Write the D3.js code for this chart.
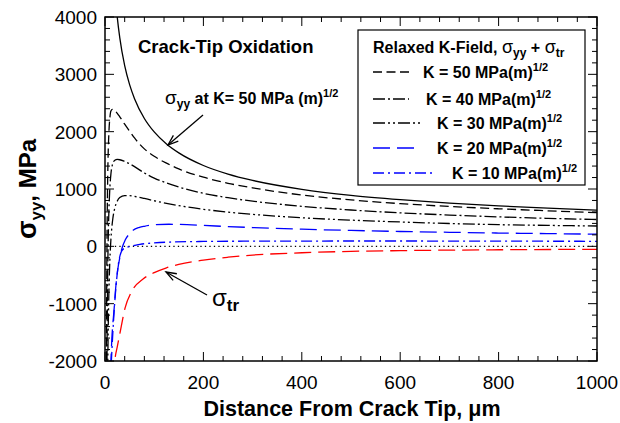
<!DOCTYPE html>
<html><head><meta charset="utf-8">
<script src="https://cdn.jsdelivr.net/npm/d3@7"></script>
<style>body{margin:0;background:#fff}svg{display:block}text{font-family:"Liberation Sans",Arial,sans-serif}</style>
</head><body><svg id="c" width="620" height="423"></svg>
<script>
// ---- data ----
const xTicks = [0,200,400,600,800,1000];
const yTicks = [-2000,-1000,0,1000,2000,3000,4000];

const rSolid = [20,25,30,40,50,60,80,100,125,150,200,250,300,400,500,600,700,800,900,1000];
const sigmaYY50 = [4460,3990,3640,3150,2820,2575,2230,1995,1785,1630,1410,1260,1150,995,890,815,755,705,665,630];

const rK50 = [2.5,3,4,5,6,8,10,12,15,18,20,25,30,40,50,60,80,100,125,150,200,250,300,400,500,600,700,800,900,1000];
const relaxK50 = [-3400,-1800,0,900,1450,2000,2250,2360,2390,2385,2370,2320,2260,2130,2010,1890,1700,1570,1450,1350,1205,1100,1020,895,810,745,695,655,620,588];

const rK40 = [3,4,5,6,7,8,10,12,15,20,25,30,40,50,60,80,100,125,150,200,250,300,400,500,600,700,800,900,1000];
const relaxK40 = [-4100,-2000,-850,-150,320,640,1040,1260,1420,1500,1515,1510,1480,1440,1390,1280,1190,1105,1035,925,848,788,698,634,584,546,514,488,468];

const rK30 = [4,5,6,7,8,10,12,14,16,20,25,30,40,50,60,70,80,100,125,150,200,250,300,400,500,600,700,800,900,1000];
const relaxK30 = [-4000,-2650,-1780,-1190,-770,-215,120,340,490,670,790,850,885,885,870,855,835,795,750,710,646,597,558,498,457,425,398,378,365,355];

const rK20 = [8,10,12,14,16,18,22,26,30,35,41,50,57,70,80,100,130,150,200,250,300,400,500,600,700,800,900,1000];
const relaxK20 = [-3000,-2400,-2000,-1600,-1350,-1150,-700,-400,-200,-20,110,220,280,330,350,375,385,382,365,345,328,299,277,259,245,232,222,212];

const rK10 = [8,10,13,16,20,24,27,30,34,40,47,60,71,98,132,200,300,400,500,600,700,800,900,1000];
const relaxK10 = [-3500,-2600,-2000,-1500,-950,-550,-320,-180,-80,-30,-10,15,35,58,75,85,90,92,93,93,92,91,89,88];

const rTr = [17,20,25,30,41,54,78,100,125,150,200,250,300,400,500,600,800,1000];
const sigmaTr = [-2350,-2000,-1750,-1530,-1070,-790,-565,-460,-375,-315,-240,-190,-152,-112,-88,-75,-60,-52];

const legendLabels = ["50","40","30","20","10"];

// ---- layout ----
const svg = d3.select("#c");
const L=105, R=597, T=17, B=361;
const x = d3.scaleLinear().domain([0,1000]).range([L,R]);
const y = d3.scaleLinear().domain([-2000,4000]).range([B,T]);

svg.append("defs").append("clipPath").attr("id","clip")
  .append("rect").attr("x",L).attr("y",T).attr("width",R-L).attr("height",B-T);

const series = [
  {r:rK50, v:relaxK50, color:"#000", dash:"9,4.5"},
  {r:rK40, v:relaxK40, color:"#000", dash:"12,3,2,3"},
  {r:rK30, v:relaxK30, color:"#000", dash:"12,3,2,3,2,3"},
  {r:rK20, v:relaxK20, color:"#0000ff", dash:"17,7"},
  {r:rK10, v:relaxK10, color:"#0000ff", dash:"11,4,2,4"},
  {r:rTr,  v:sigmaTr,  color:"#ff0000", dash:"17,7"},
  {r:rSolid, v:sigmaYY50, color:"#000", dash:null}
];

const line = d3.line().x(d=>x(d[0])).y(d=>y(d[1])).curve(d3.curveMonotoneX);
const g = svg.append("g").attr("clip-path","url(#clip)");

// zero dotted line
g.append("path").attr("d", line([[20,0],[1000,0]])).attr("fill","none")
  .attr("stroke","#000").attr("stroke-width",1.3).attr("stroke-dasharray","1.3,3.2");

series.forEach(s=>{
  g.append("path").attr("d", line(s.r.map((r,i)=>[r,s.v[i]])))
    .attr("fill","none").attr("stroke",s.color).attr("stroke-width",1.3)
    .attr("stroke-dasharray", s.dash);
});

// ---- axes ----
const xMinor = d3.range(0,1001,40);
const yMinor = d3.range(-2000,4001,200);
const ax = svg.append("g").attr("stroke","#000").attr("stroke-width",1);
xMinor.forEach(v=>{
  const len = xTicks.includes(v)?9:5;
  ax.append("line").attr("x1",x(v)).attr("x2",x(v)).attr("y1",B).attr("y2",B-len);
  ax.append("line").attr("x1",x(v)).attr("x2",x(v)).attr("y1",T).attr("y2",T+len);
});
yMinor.forEach(v=>{
  const len = yTicks.includes(v)?9:5;
  ax.append("line").attr("x1",L).attr("x2",L+len).attr("y1",y(v)).attr("y2",y(v));
  ax.append("line").attr("x1",R).attr("x2",R-len).attr("y1",y(v)).attr("y2",y(v));
});
svg.append("rect").attr("x",L).attr("y",T).attr("width",R-L).attr("height",B-T)
  .attr("fill","none").attr("stroke","#000").attr("stroke-width",1.5);

xTicks.forEach(v=>{
  svg.append("text").attr("x",x(v)).attr("y",389).attr("text-anchor","middle")
    .attr("font-size",19).text(v);
});
yTicks.forEach(v=>{
  svg.append("text").attr("x",97).attr("y",y(v)+7).attr("text-anchor","end")
    .attr("font-size",19).text(v);
});

// axis titles
svg.append("text").attr("x",352).attr("y",416).attr("text-anchor","middle")
  .attr("font-size",21.5).attr("font-weight","bold").text("Distance From Crack Tip, μm");
const yt = svg.append("text").attr("transform","translate(36,189) rotate(-90)")
  .attr("text-anchor","middle").attr("font-size",24).attr("font-weight","bold");
yt.append("tspan").attr("font-size",27).text("σ");
yt.append("tspan").attr("font-size",17).attr("dy",6).text("yy");
yt.append("tspan").attr("dy",-6).text(", MPa");

// title inside
svg.append("text").attr("x",138).attr("y",53).attr("font-size",18.5).attr("font-weight","bold")
  .text("Crack-Tip Oxidation");

// annotation sigma_yy
const a1 = svg.append("text").attr("x",165).attr("y",104).attr("font-size",16).attr("font-weight","bold");
a1.append("tspan").attr("font-weight","normal").attr("font-size",19).text("σ");
a1.append("tspan").attr("font-size",12).attr("dy",4).text("yy");
a1.append("tspan").attr("dy",-4).text(" at K= 50 MPa (m)");
a1.append("tspan").attr("font-size",11).attr("dy",-7).text("1/2");

function arrow(x1,y1,x2,y2){
  svg.append("line").attr("x1",x1).attr("y1",y1).attr("x2",x2).attr("y2",y2)
    .attr("stroke","#000").attr("stroke-width",1.3);
  const ang = Math.atan2(y1-y2,x1-x2), h=11, w=0.35;
  const p = [[x2+h*Math.cos(ang+w), y2+h*Math.sin(ang+w)],[x2,y2],[x2+h*Math.cos(ang-w), y2+h*Math.sin(ang-w)]];
  svg.append("path").attr("d",d3.line()(p)).attr("fill","none").attr("stroke","#000").attr("stroke-width",1.3);
}
arrow(203,115,168,145);
arrow(207,295,166,272);

const a2 = svg.append("text").attr("x",212).attr("y",306).attr("font-size",22).attr("font-weight","bold");
a2.append("tspan").attr("font-weight","normal").attr("font-size",24).text("σ");
a2.append("tspan").attr("font-size",17).attr("dy",5).text("tr");

// ---- legend ----
svg.append("rect").attr("x",358).attr("y",30).attr("width",227).attr("height",155)
  .attr("fill","#fff").attr("stroke","#000").attr("stroke-width",1.2);
const lt = svg.append("text").attr("x",373).attr("y",53).attr("font-size",16).attr("font-weight","bold");
lt.append("tspan").text("Relaxed K-Field, ");
lt.append("tspan").attr("font-weight","normal").attr("font-size",18).text("σ");
lt.append("tspan").attr("font-size",12).attr("dy",4).text("yy");
lt.append("tspan").attr("dy",-4).text(" + ");
lt.append("tspan").attr("font-weight","normal").attr("font-size",18).text("σ");
lt.append("tspan").attr("font-size",12).attr("dy",4).text("tr");

const legY = [72,99,123,148,173];
const legLen = [36,36,47,43,59];
const legTx = [423,426,437,437,452];
for(let i=0;i<5;i++){
  const s = series[i];
  svg.append("line").attr("x1",373).attr("x2",373+legLen[i]).attr("y1",legY[i]).attr("y2",legY[i])
    .attr("stroke",s.color).attr("stroke-width",1.3).attr("stroke-dasharray",s.dash);
  const t = svg.append("text").attr("x",legTx[i]).attr("y",legY[i]+6).attr("font-size",16).attr("font-weight","bold");
  t.append("tspan").text("K = "+legendLabels[i]+" MPa(m)");
  t.append("tspan").attr("font-size",11).attr("dy",-7).text("1/2");
}
</script></body></html>
